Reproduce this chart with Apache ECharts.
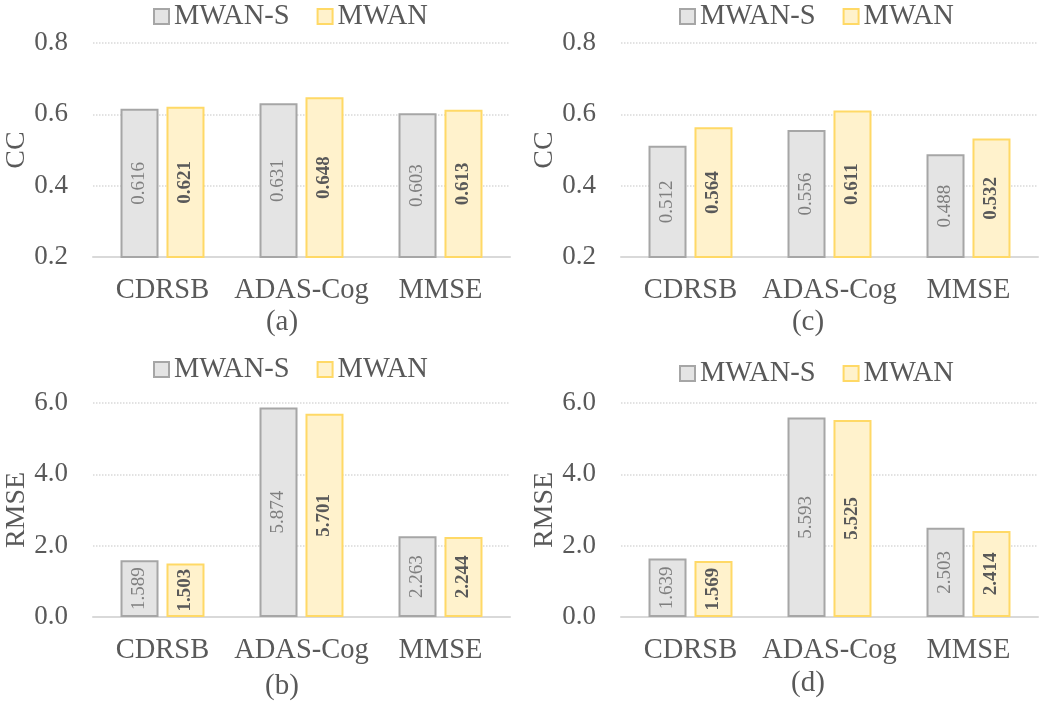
<!DOCTYPE html>
<html>
<head>
<meta charset="utf-8">
<script src="https://cdn.jsdelivr.net/npm/echarts@6/dist/echarts.min.js"></script>
<style>
  html, body { margin: 0; padding: 0; background: #fff; }
  #chart { width: 1050px; height: 706px; }
</style>
</head>
<body>
<div id="chart"></div>
<script>
const categories = ['CDRSB', 'ADAS-Cog', 'MMSE']
const seriesNames = ['MWAN-S', 'MWAN']

// (a) CC
const ccA_mwanS = [0.616, 0.631, 0.603]
const ccA_mwan = [0.621, 0.648, 0.613]
// (c) CC
const ccC_mwanS = [0.512, 0.556, 0.488]
const ccC_mwan = [0.564, 0.611, 0.532]
// (b) RMSE
const rmseB_mwanS = [1.589, 5.874, 2.263]
const rmseB_mwan = [1.503, 5.701, 2.244]
// (d) RMSE
const rmseD_mwanS = [1.639, 5.593, 2.503]
const rmseD_mwan = [1.569, 5.525, 2.414]

const panelLabels = ['(a)', '(c)', '(b)', '(d)']

const FONT = 'Liberation Serif'
const TXT = '#595959'

const chart = echarts.init(document.getElementById('chart'))

const panels = [
  { left: 93, top: 43, name: 'CC', min: 0.2, max: 0.8, interval: 0.2, s: ccA_mwanS, m: ccA_mwan, legendTop: 2, legendLeft: 153, labX: 282, labY: 322 },
  { left: 621, top: 43, name: 'CC', min: 0.2, max: 0.8, interval: 0.2, s: ccC_mwanS, m: ccC_mwan, legendTop: 2, legendLeft: 679, labX: 808, labY: 322 },
  { left: 93, top: 403, name: 'RMSE', min: 0, max: 6, interval: 2, s: rmseB_mwanS, m: rmseB_mwan, legendTop: 355, legendLeft: 153, labX: 282, labY: 686 },
  { left: 621, top: 403, name: 'RMSE', min: 0, max: 6, interval: 2, s: rmseD_mwanS, m: rmseD_mwan, legendTop: 359, legendLeft: 679, labX: 808, labY: 683 }
]

const grid = [], xAxis = [], yAxis = [], series = [], legend = [], graphic = []

panels.forEach((p, i) => {
  grid.push({ left: p.left, top: p.top, width: 417, height: 214 })
  xAxis.push({
    type: 'category',
    gridIndex: i,
    data: categories,
    axisTick: { show: false },
    axisLine: { lineStyle: { color: '#d9d9d9', width: 2 } },
    axisLabel: { interval: 0, color: TXT, fontFamily: FONT, fontSize: 28.5, margin: 19 }
  })
  yAxis.push({
    type: 'value',
    gridIndex: i,
    min: p.min,
    max: p.max,
    interval: p.interval,
    name: p.name,
    nameLocation: 'middle',
    nameGap: 60,
    nameTextStyle: { color: TXT, fontFamily: FONT, fontSize: 28 },
    axisLine: { show: false },
    axisTick: { show: false },
    axisLabel: {
      color: TXT, fontFamily: FONT, fontSize: 27, margin: 25,
      formatter: v => v.toFixed(1)
    },
    splitLine: { lineStyle: { color: '#d9d9d9', type: 'dotted', width: 1.5 } }
  })
  series.push({
    name: seriesNames[0],
    type: 'bar',
    xAxisIndex: i,
    yAxisIndex: i,
    data: p.s,
    barWidth: 38,
    barGap: '21%',
    itemStyle: { color: '#e4e4e4', borderColor: '#a6a6a6', borderWidth: 2 },
    label: {
      show: true, position: 'inside', rotate: 90,
      color: '#7f7f7f', fontFamily: FONT, fontSize: 19,
      formatter: d => d.value.toFixed(3)
    }
  })
  series.push({
    name: seriesNames[1],
    type: 'bar',
    xAxisIndex: i,
    yAxisIndex: i,
    data: p.m,
    barWidth: 38,
    barGap: '21%',
    itemStyle: { color: '#fff2cc', borderColor: '#ffd966', borderWidth: 2 },
    label: {
      show: true, position: 'inside', rotate: 90,
      color: '#595959', fontFamily: FONT, fontSize: 19, fontWeight: 'bold',
      formatter: d => d.value.toFixed(3)
    }
  })
  legend.push({
    data: seriesNames,
    top: p.legendTop,
    left: p.legendLeft,
    padding: 0,
    icon: 'rect',
    itemWidth: 15,
    itemHeight: 15,
    itemGap: 27,
    textStyle: { color: TXT, fontFamily: FONT, fontSize: 28.5 }
  })
  graphic.push({
    type: 'text',
    x: p.labX,
    y: p.labY,
    style: {
      text: panelLabels[i],
      fill: TXT,
      font: '29px "Liberation Serif"',
      align: 'center',
      verticalAlign: 'middle'
    }
  })
})

chart.setOption({
  animation: false,
  legend,
  grid,
  xAxis,
  yAxis,
  series,
  graphic
})
</script>
</body>
</html>
